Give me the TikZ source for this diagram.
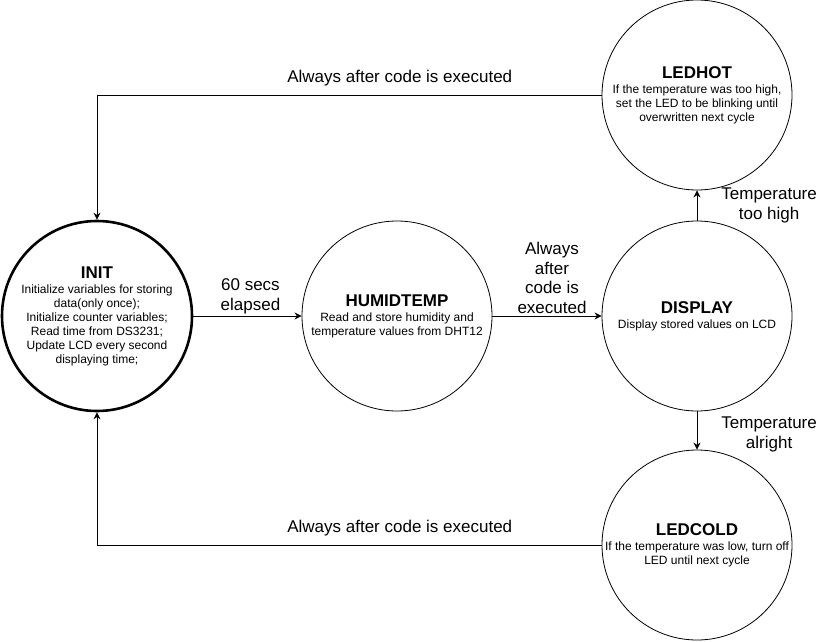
\documentclass[tikz,border=0pt]{standalone}
\usepackage{fontspec}
\setmainfont{Liberation Sans}
\usetikzlibrary{arrows.meta}

\begin{document}
\begin{tikzpicture}[x=1pt,y=-1pt,
  state/.style={draw,circle,minimum size=190pt,inner sep=0pt,line width=0.8pt},
  startstate/.style={state,line width=2.6pt},
  txt/.style={align=center,inner sep=0pt,font=\fontsize{12}{14}\selectfont},
  lbl/.style={align=center,inner sep=2pt,font=\fontsize{17}{19.5}\selectfont},
  go/.style={line width=0.8pt,-{Stealth[length=7pt,width=7pt]}}]
  \def\ttl#1{{\fontsize{17}{19}\selectfont\bfseries #1}}
  \useasboundingbox (0,0) rectangle (819,642);
  % the five states
  \path[coordinate] (97,316) coordinate(I)
              ++(300,0) coordinate(H)
              ++(300,0) coordinate(D)
              ++(0,-221) coordinate(T)
              ++(0,450) coordinate(C);
  \node[startstate] (init) at (I) {};
  \node[state] (humid) at (H) {};
  \node[state] (disp) at (D) {};
  \node[state] (ledhot) at (T) {};
  \node[state] (ledcold) at (C) {};
  \node[txt] (initT) at (init) {\ttl{INIT}\\[1pt]Initialize variables for storing\\data(only once);\\Initialize counter variables;\\Read time from DS3231;\\Update LCD every second\\displaying time;};
  \node[txt] (humidT) at (humid) {\ttl{HUMIDTEMP}\\[1pt]Read and store humidity and\\temperature values from DHT12};
  \node[txt] (dispT) at (disp) {\ttl{DISPLAY}\\[1pt]Display stored values on LCD};
  \node[txt] (ledhotT) at (ledhot) {\ttl{LEDHOT}\\[1pt]If the temperature was too high,\\set the LED to be blinking until\\overwritten next cycle};
  \node[txt] (ledcoldT) at (ledcold) {\ttl{LEDCOLD}\\[1pt]If the temperature was low, turn off\\LED until next cycle};
  % transitions
  \draw[go] (init) -- node[lbl,above,xshift=3pt] {60 secs\\elapsed} (humid);
  \draw[go] (humid) -- node[lbl,above,xshift=5pt] {Always\\after\\code is\\executed} (disp);
  \draw[go] (disp) -- node[lbl,right=22pt] {Temperature\\too high} (ledhot);
  \draw[go] (disp) -- node[lbl,right=22pt,yshift=-4pt] {Temperature\\alright} (ledcold);
  \draw[go] (ledhot.west) -| node[lbl,pos=0.2,above=7pt] {Always after code is executed} (init.north);
  \draw[go] (ledcold.west) -| node[lbl,pos=0.2,above=7pt] {Always after code is executed} (init.south);
\end{tikzpicture}
\end{document}
